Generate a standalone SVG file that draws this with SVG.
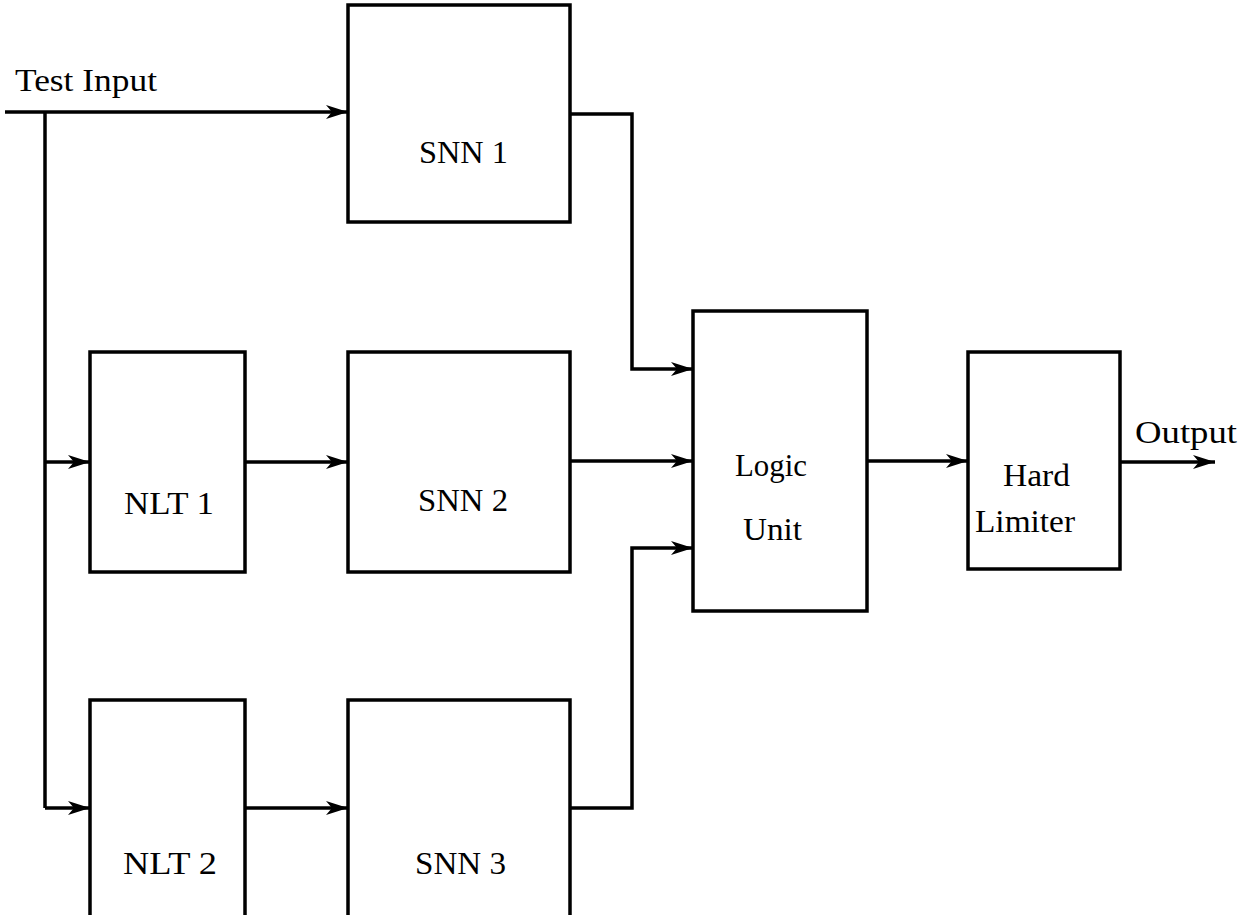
<svg xmlns="http://www.w3.org/2000/svg" width="1247" height="915" viewBox="0 0 1247 915">
<defs>
<marker id="ah" viewBox="0 0 22 14" refX="22" refY="7" markerWidth="22" markerHeight="14" markerUnits="userSpaceOnUse" orient="auto">
<path d="M0,0 L22,7 L0,14 L6,7 Z" fill="#000"/>
</marker>
</defs>
<style>
.box{fill:#fff;stroke:#000;stroke-width:3.5}
.ln{fill:none;stroke:#000;stroke-width:3.5}
.ar{fill:none;stroke:#000;stroke-width:3.5;marker-end:url(#ah)}
text{font-family:"Liberation Serif","Times New Roman",serif;font-size:32px;fill:#000}
</style>
<rect width="1247" height="915" fill="#fff"/>
<g id="connectors">
<path class="ar" d="M5,112 H348"/>
<path class="ln" d="M45,112 V808"/>
<path class="ar" d="M45,462 H90"/>
<path class="ar" d="M45,808 H90"/>
<path class="ar" d="M245,462 H348"/>
<path class="ar" d="M245,808 H348"/>
<path class="ar" d="M570,114 H632 V369 H693"/>
<path class="ar" d="M570,461 H693"/>
<path class="ar" d="M570,808 H632 V548 H693"/>
<path class="ar" d="M867,461 H968"/>
<path class="ar" d="M1120,462 H1215"/>
</g>
<g id="test-input"><text x="15" y="91" textLength="142" lengthAdjust="spacingAndGlyphs">Test Input</text></g>
<g id="snn1"><rect class="box" x="348" y="5" width="222" height="217"/><text x="419" y="163" textLength="89" lengthAdjust="spacingAndGlyphs">SNN 1</text></g>
<g id="nlt1"><rect class="box" x="90" y="352" width="155" height="220"/><text x="124" y="514" textLength="90" lengthAdjust="spacingAndGlyphs">NLT 1</text></g>
<g id="snn2"><rect class="box" x="348" y="352" width="222" height="220"/><text x="418" y="511" textLength="90" lengthAdjust="spacingAndGlyphs">SNN 2</text></g>
<g id="nlt2"><rect class="box" x="90" y="700" width="155" height="230"/><text x="123" y="874" textLength="94" lengthAdjust="spacingAndGlyphs">NLT 2</text></g>
<g id="snn3"><rect class="box" x="348" y="700" width="222" height="230"/><text x="415" y="874" textLength="91" lengthAdjust="spacingAndGlyphs">SNN 3</text></g>
<g id="logic"><rect class="box" x="693" y="311" width="174" height="300"/><text x="735" y="476" textLength="72" lengthAdjust="spacingAndGlyphs">Logic</text><text x="743" y="540" textLength="59" lengthAdjust="spacingAndGlyphs">Unit</text></g>
<g id="hard"><rect class="box" x="968" y="352" width="152" height="217"/><text x="1003" y="486" textLength="67" lengthAdjust="spacingAndGlyphs">Hard</text><text x="975" y="532" textLength="100" lengthAdjust="spacingAndGlyphs">Limiter</text></g>
<g id="output"><text x="1135" y="443" textLength="102" lengthAdjust="spacingAndGlyphs">Output</text></g>
</svg>
